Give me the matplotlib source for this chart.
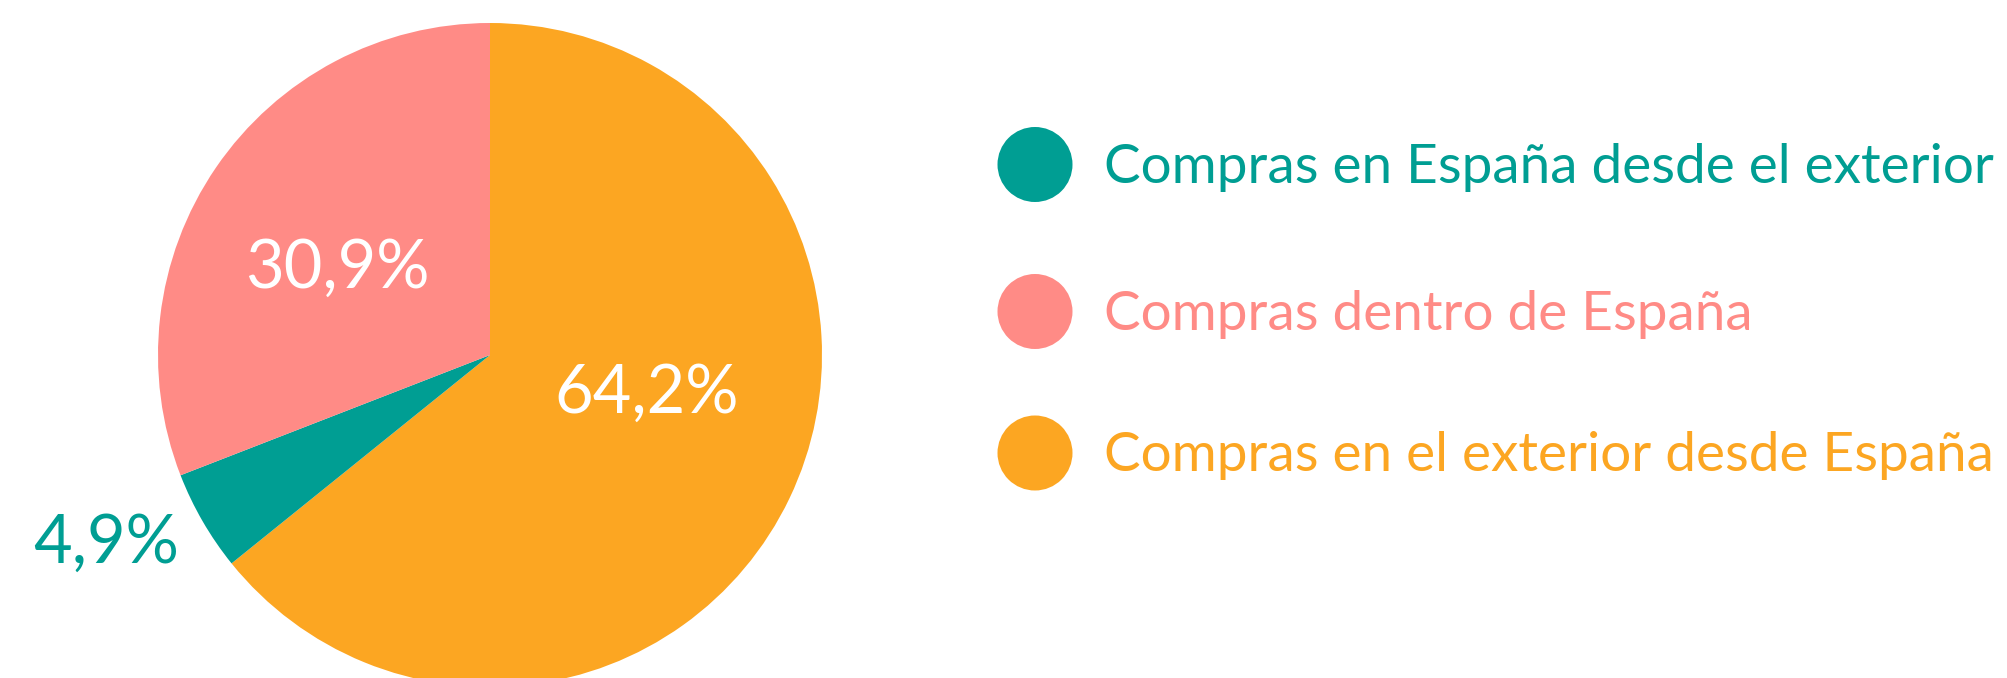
import matplotlib
matplotlib.use("Agg")
import matplotlib.pyplot as plt
from matplotlib.patches import Circle

# Data
categories = ["Compras en el exterior desde España",
              "Compras en España desde el exterior",
              "Compras dentro de España"]
values = [64.2, 4.9, 30.9]
colors = ["#FCA622", "#009E93", "#FF8B86"]
value_labels = ["64,2%", "4,9%", "30,9%"]
legend_order = [1, 2, 0]

W, H = 2008, 678
fig = plt.figure(figsize=(W / 100, H / 100), dpi=100)
ax = fig.add_axes([0, 0, 1, 1])

cx, cy, R = 490, H - 355, 332
ax.pie(values, colors=colors, startangle=90, counterclock=False,
       center=(cx, cy), radius=R, frame=True,
       wedgeprops=dict(linewidth=0))
ax.set_xlim(0, W)
ax.set_ylim(0, H)
ax.set_aspect("equal")
ax.axis("off")

font = "Lato"
fs_val = 48
# (center x, baseline y, colour)
label_pos = [(647, H - 413, "white"), (106, H - 563, colors[1]), (337, H - 288, "white")]
for (x, y, c), t in zip(label_pos, value_labels):
    ax.text(x, y, t, color=c, fontsize=fs_val, ha="center", va="baseline",
            family=font)

leg_y = [164.5, 311.5, 453]
for i, idx in enumerate(legend_order):
    y = H - leg_y[i]
    ax.add_patch(Circle((1035, y), 37.5, color=colors[idx], linewidth=0))
    ax.text(1104, y - 18.5, categories[idx], color=colors[idx], fontsize=39.5,
            ha="left", va="baseline", family=font)

fig.savefig("out.png", dpi=100)
